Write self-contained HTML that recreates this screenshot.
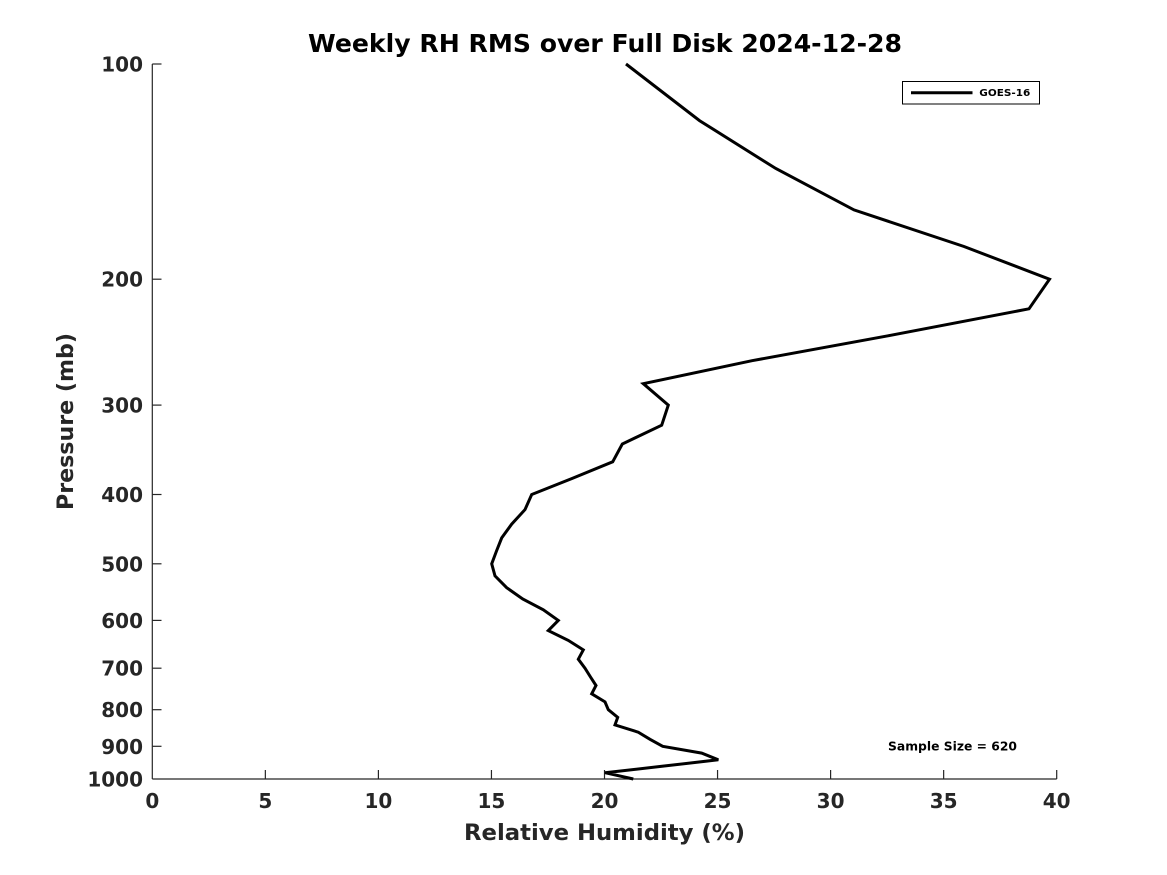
<!DOCTYPE html>
<html>
<head>
<meta charset="utf-8">
<style>
  html, body { margin: 0; padding: 0; background: #fff; }
  svg { display: block; }
  text { font-family: "DejaVu Sans", "Liberation Sans", sans-serif; font-weight: bold; }
</style>
</head>
<body>
<svg width="1167" height="875" viewBox="0 0 1167 875" xmlns="http://www.w3.org/2000/svg">
  <rect x="0" y="0" width="1167" height="875" fill="#fff"/>

  <!-- Title -->
  <text x="605" y="52" font-size="25" text-anchor="middle" fill="#000" textLength="594" lengthAdjust="spacingAndGlyphs">Weekly RH RMS over Full Disk 2024-12-28</text>

  <!-- Axes -->
  <g stroke="#262626" stroke-width="1.2" fill="none">
    <line x1="152.3" y1="64" x2="152.3" y2="779"/>
    <line x1="152.3" y1="779" x2="1056.7" y2="779"/>
    <!-- y ticks -->
    <line x1="152.3" y1="64" x2="161.5" y2="64"/>
    <line x1="152.3" y1="279.2" x2="161.5" y2="279.2"/>
    <line x1="152.3" y1="405.1" x2="161.5" y2="405.1"/>
    <line x1="152.3" y1="494.5" x2="161.5" y2="494.5"/>
    <line x1="152.3" y1="563.8" x2="161.5" y2="563.8"/>
    <line x1="152.3" y1="620.4" x2="161.5" y2="620.4"/>
    <line x1="152.3" y1="668.2" x2="161.5" y2="668.2"/>
    <line x1="152.3" y1="709.7" x2="161.5" y2="709.7"/>
    <line x1="152.3" y1="746.3" x2="161.5" y2="746.3"/>
    <!-- x ticks -->
    <line x1="265.35" y1="779" x2="265.35" y2="770"/>
    <line x1="378.4" y1="779" x2="378.4" y2="770"/>
    <line x1="491.45" y1="779" x2="491.45" y2="770"/>
    <line x1="604.5" y1="779" x2="604.5" y2="770"/>
    <line x1="717.55" y1="779" x2="717.55" y2="770"/>
    <line x1="830.6" y1="779" x2="830.6" y2="770"/>
    <line x1="943.65" y1="779" x2="943.65" y2="770"/>
    <line x1="1056.7" y1="779" x2="1056.7" y2="770"/>
  </g>

  <!-- Y tick labels -->
  <g font-size="20" fill="#262626" text-anchor="end">
    <text x="143" y="71.5">100</text>
    <text x="143" y="286.7">200</text>
    <text x="143" y="412.6">300</text>
    <text x="143" y="502">400</text>
    <text x="143" y="571.3">500</text>
    <text x="143" y="627.9">600</text>
    <text x="143" y="675.7">700</text>
    <text x="143" y="717.2">800</text>
    <text x="143" y="753.8">900</text>
    <text x="143" y="786.5">1000</text>
  </g>

  <!-- X tick labels -->
  <g font-size="20" fill="#262626" text-anchor="middle">
    <text x="152.3" y="808">0</text>
    <text x="265.35" y="808">5</text>
    <text x="378.4" y="808">10</text>
    <text x="491.45" y="808">15</text>
    <text x="604.5" y="808">20</text>
    <text x="717.55" y="808">25</text>
    <text x="830.6" y="808">30</text>
    <text x="943.65" y="808">35</text>
    <text x="1056.7" y="808">40</text>
  </g>

  <!-- Axis labels -->
  <text x="604.5" y="840" font-size="22" fill="#262626" text-anchor="middle" textLength="281" lengthAdjust="spacingAndGlyphs">Relative Humidity (%)</text>
  <text transform="translate(73,421.5) rotate(-90)" x="0" y="0" font-size="22" fill="#262626" text-anchor="middle" textLength="177" lengthAdjust="spacingAndGlyphs">Pressure (mb)</text>

  <!-- Data line -->
  <polyline fill="none" stroke="#000" stroke-width="3" stroke-linejoin="miter" stroke-linecap="butt"
    points="626,64 699.5,120.6 775.8,168.5 854,209.9 964,246.5 1049.5,279.2 1029,308.8 888,335.8 752,360.7 643.3,383.7 668.3,405.1 661.7,425.2 622.3,444 612.7,461.8 572,478.5 531.7,494.5 525,509.6 511.7,524.1 501.7,537.9 496.5,551 491.7,563.8 495,575.9 506.7,587.7 522.7,599 543.3,609.8 558.3,620.4 548.3,630.6 568.3,640.4 583.3,649.9 578.3,659.2 585,668.2 590.5,677 596,685.5 591.7,693.8 605,701.9 608.3,709.7 617.7,717.4 615,724.9 638.3,732.2 650,739.3 662.7,746.3 701.7,753.1 718.3,759.8 662,766.3 605,772.7 633.3,779"/>

  <!-- Legend -->
  <rect x="902.5" y="81.5" width="137" height="22.5" fill="#fff" stroke="#000" stroke-width="1"/>
  <line x1="911" y1="92.7" x2="972.5" y2="92.7" stroke="#000" stroke-width="3"/>
  <text x="979.3" y="96.2" font-size="10" fill="#000" textLength="51" lengthAdjust="spacingAndGlyphs">GOES-16</text>

  <!-- Sample size -->
  <text x="888" y="750.5" font-size="12" fill="#000" textLength="129" lengthAdjust="spacingAndGlyphs">Sample Size = 620</text>
</svg>
</body>
</html>
